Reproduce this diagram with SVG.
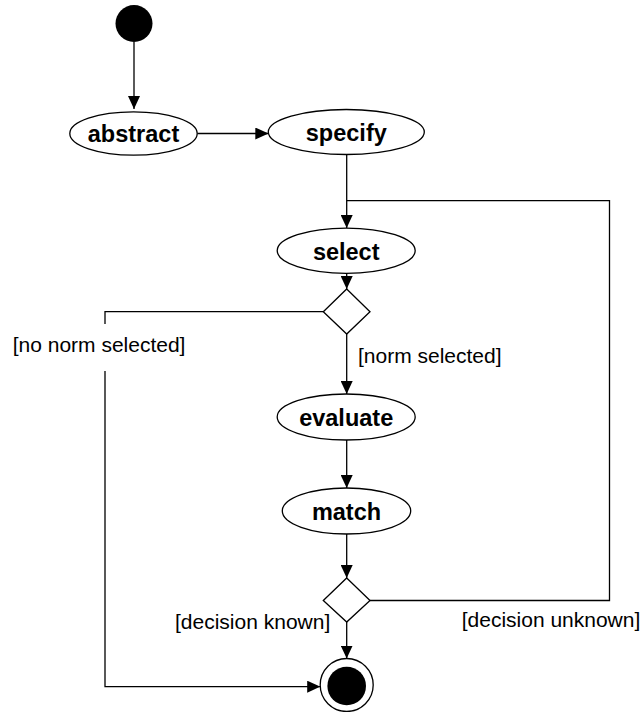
<svg xmlns="http://www.w3.org/2000/svg" width="643" height="712" viewBox="0 0 643 712">
  <style>
    .edge { fill: none; stroke: #000; stroke-width: 1.3; }
    .node { fill: #fff; stroke: #000; stroke-width: 1.3; }
    .name { font-family: "Liberation Sans", Arial, sans-serif; font-weight: bold; font-size: 23.5px; text-anchor: middle; fill: #000; }
    .guard { font-family: "Liberation Sans", Arial, sans-serif; font-size: 21px; fill: #000; }
  </style>
  <defs>
    <marker id="arrow" markerUnits="userSpaceOnUse" markerWidth="13" markerHeight="12" refX="13" refY="6" orient="auto">
      <path d="M0,0 L13,6 L0,12 Z" fill="#000"/>
    </marker>
  </defs>
  <rect width="643" height="712" fill="#fff"/>

  <g id="connectors">
    <path class="edge" d="M134,42 L134,109" marker-end="url(#arrow)"/>
    <path class="edge" d="M197.3,133.5 L268.3,133.5" marker-end="url(#arrow)"/>
    <path class="edge" d="M346.7,154.5 L346.7,228" marker-end="url(#arrow)"/>
    <path class="edge" d="M346.7,273.3 L346.7,289" marker-end="url(#arrow)"/>
    <path class="edge" d="M346.7,334 L346.7,394" marker-end="url(#arrow)"/>
    <path class="edge" d="M346.7,440 L346.7,488" marker-end="url(#arrow)"/>
    <path class="edge" d="M346.7,534 L346.7,578" marker-end="url(#arrow)"/>
    <path class="edge" d="M346.7,622 L346.7,658.5" marker-end="url(#arrow)"/>
    <path class="edge" d="M370,600.5 L609.5,600.5 L609.5,200.7 L346.7,200.7"/>
    <path class="edge" d="M323.3,311.7 L105,311.7 L105,686.7 L320.2,686.7" marker-end="url(#arrow)"/>
  </g>

  <g id="guards">
    <rect x="10" y="324" width="180" height="47" fill="#fff"/>
    <text class="guard" x="12.7" y="352">[no norm selected]</text>
    <text class="guard" x="358" y="363">[norm selected]</text>
    <text class="guard" x="175" y="629">[decision known]</text>
    <text class="guard" x="461.7" y="627">[decision unknown]</text>
  </g>

  <g id="start">
    <circle cx="134" cy="23.5" r="18.5" fill="#000"/>
  </g>
  <g id="abstract">
    <ellipse class="node" cx="133.5" cy="133.5" rx="63.7" ry="21.7"/>
    <text class="name" x="133.5" y="142">abstract</text>
  </g>
  <g id="specify">
    <ellipse class="node" cx="346.3" cy="132" rx="78" ry="22.5"/>
    <text class="name" x="346.3" y="141">specify</text>
  </g>
  <g id="select">
    <ellipse class="node" cx="346.2" cy="250.7" rx="69" ry="22.6"/>
    <text class="name" x="346.2" y="259.7">select</text>
  </g>
  <g id="decision1">
    <polygon class="node" points="346.7,289 370,311.7 346.7,334 323.3,311.7"/>
  </g>
  <g id="evaluate">
    <ellipse class="node" cx="346.2" cy="417" rx="69" ry="23"/>
    <text class="name" x="346.2" y="426">evaluate</text>
  </g>
  <g id="match">
    <ellipse class="node" cx="346.5" cy="511" rx="64.2" ry="23"/>
    <text class="name" x="346.5" y="519.5">match</text>
  </g>
  <g id="decision2">
    <polygon class="node" points="346.7,578 370,600.5 346.7,622 323.3,600.5"/>
  </g>
  <g id="end">
    <circle class="node" cx="346.7" cy="685" r="26.5"/>
    <circle cx="346.7" cy="686" r="19.3" fill="#000"/>
  </g>
</svg>
